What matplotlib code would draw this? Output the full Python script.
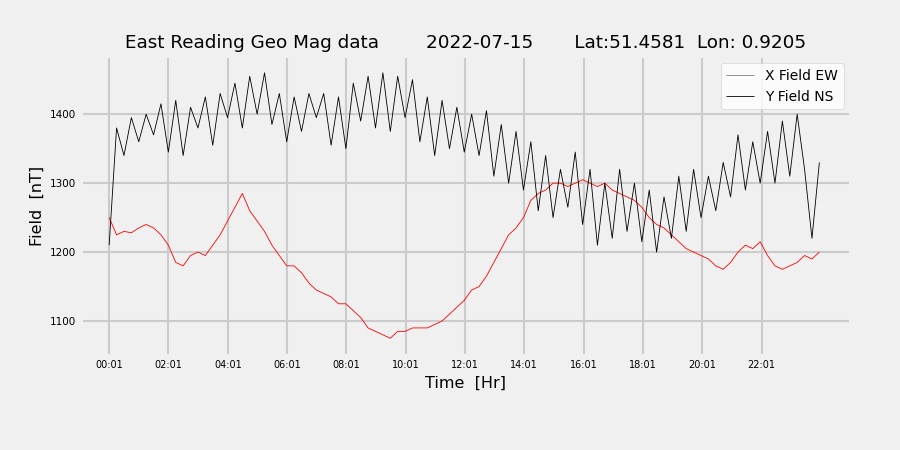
import matplotlib
matplotlib.use("Agg")
import matplotlib.pyplot as plt
import numpy as np

# X field (EW), quarter-hour readings, nT
x_field = [1250, 1225, 1230, 1228, 1235, 1240, 1235, 1225, 1210, 1185, 1180, 1195,
           1200, 1195, 1210, 1225, 1245, 1265, 1285, 1260, 1245, 1230, 1210, 1195,
           1180, 1180, 1170, 1155, 1145, 1140, 1135, 1125, 1125, 1115, 1105, 1090,
           1085, 1080, 1075, 1085, 1085, 1090, 1090, 1090, 1095, 1100, 1110, 1120,
           1130, 1145, 1150, 1165, 1185, 1205, 1225, 1235, 1250, 1275, 1285, 1290,
           1300, 1300, 1295, 1300, 1305, 1300, 1295, 1300, 1290, 1285, 1280, 1275,
           1265, 1250, 1240, 1235, 1225, 1215, 1205, 1200, 1195, 1190, 1180, 1175,
           1185, 1200, 1210, 1205, 1215, 1195, 1180, 1175, 1180, 1185, 1195, 1190, 1200]

# Y field (NS), quarter-hour readings with spikes, nT
y_field = [1210, 1380, 1340, 1395, 1360, 1400, 1370, 1415, 1345, 1420, 1340, 1410,
           1380, 1425, 1355, 1430, 1395, 1445, 1380, 1455, 1400, 1460, 1385, 1430,
           1360, 1425, 1375, 1430, 1395, 1430, 1355, 1425, 1350, 1445, 1390, 1455,
           1380, 1460, 1375, 1455, 1395, 1450, 1360, 1425, 1340, 1420, 1350, 1410,
           1345, 1400, 1340, 1405, 1310, 1385, 1300, 1375, 1290, 1360, 1260, 1340,
           1250, 1320, 1265, 1345, 1240, 1320, 1210, 1300, 1220, 1320, 1230, 1300,
           1215, 1290, 1200, 1280, 1220, 1310, 1230, 1320, 1250, 1310, 1260, 1330,
           1280, 1370, 1290, 1360, 1300, 1375, 1300, 1390, 1310, 1400, 1320, 1220, 1330]

tick_labels = ["00:01", "02:01", "04:01", "06:01", "08:01", "10:01",
               "12:01", "14:01", "16:01", "18:01", "20:01", "22:01"]

plt.style.use("fivethirtyeight")
fig, ax = plt.subplots(figsize=(9, 4.5), dpi=100)
fig.patch.set_facecolor("#f0f0f0")
ax.set_facecolor("#f0f0f0")

t = np.linspace(0, 23.95, len(x_field))
ax.plot(t, x_field, color="red", lw=0.6, label="X Field EW")
ax.plot(t, y_field, color="black", lw=0.6, label="Y Field NS")

ax.set_xticks(np.arange(0, 24, 2))
ax.set_xticklabels(tick_labels, fontsize=7)
ax.set_yticks([1100, 1200, 1300, 1400])
ax.tick_params(axis="y", labelsize=7.5)
ax.set_xlim(-0.95, 25)
ax.set_ylim(1050, 1484)
ax.grid(True, color="#cbcbcb", lw=1.5)

ax.set_xlabel("Time  [Hr]", fontsize=11.5)
ax.set_ylabel("Field  [nT]", fontsize=11.5)
ax.set_title("East Reading Geo Mag data        2022-07-15       Lat:51.4581  Lon: 0.9205",
             fontsize=13.2)
leg = ax.legend(loc="upper right", fontsize=10, frameon=True, facecolor="white")
leg.get_lines()[0].set_color("grey")

plt.subplots_adjust(left=0.09, right=0.945, top=0.875, bottom=0.21)
fig.savefig("out.png", facecolor=fig.get_facecolor())
